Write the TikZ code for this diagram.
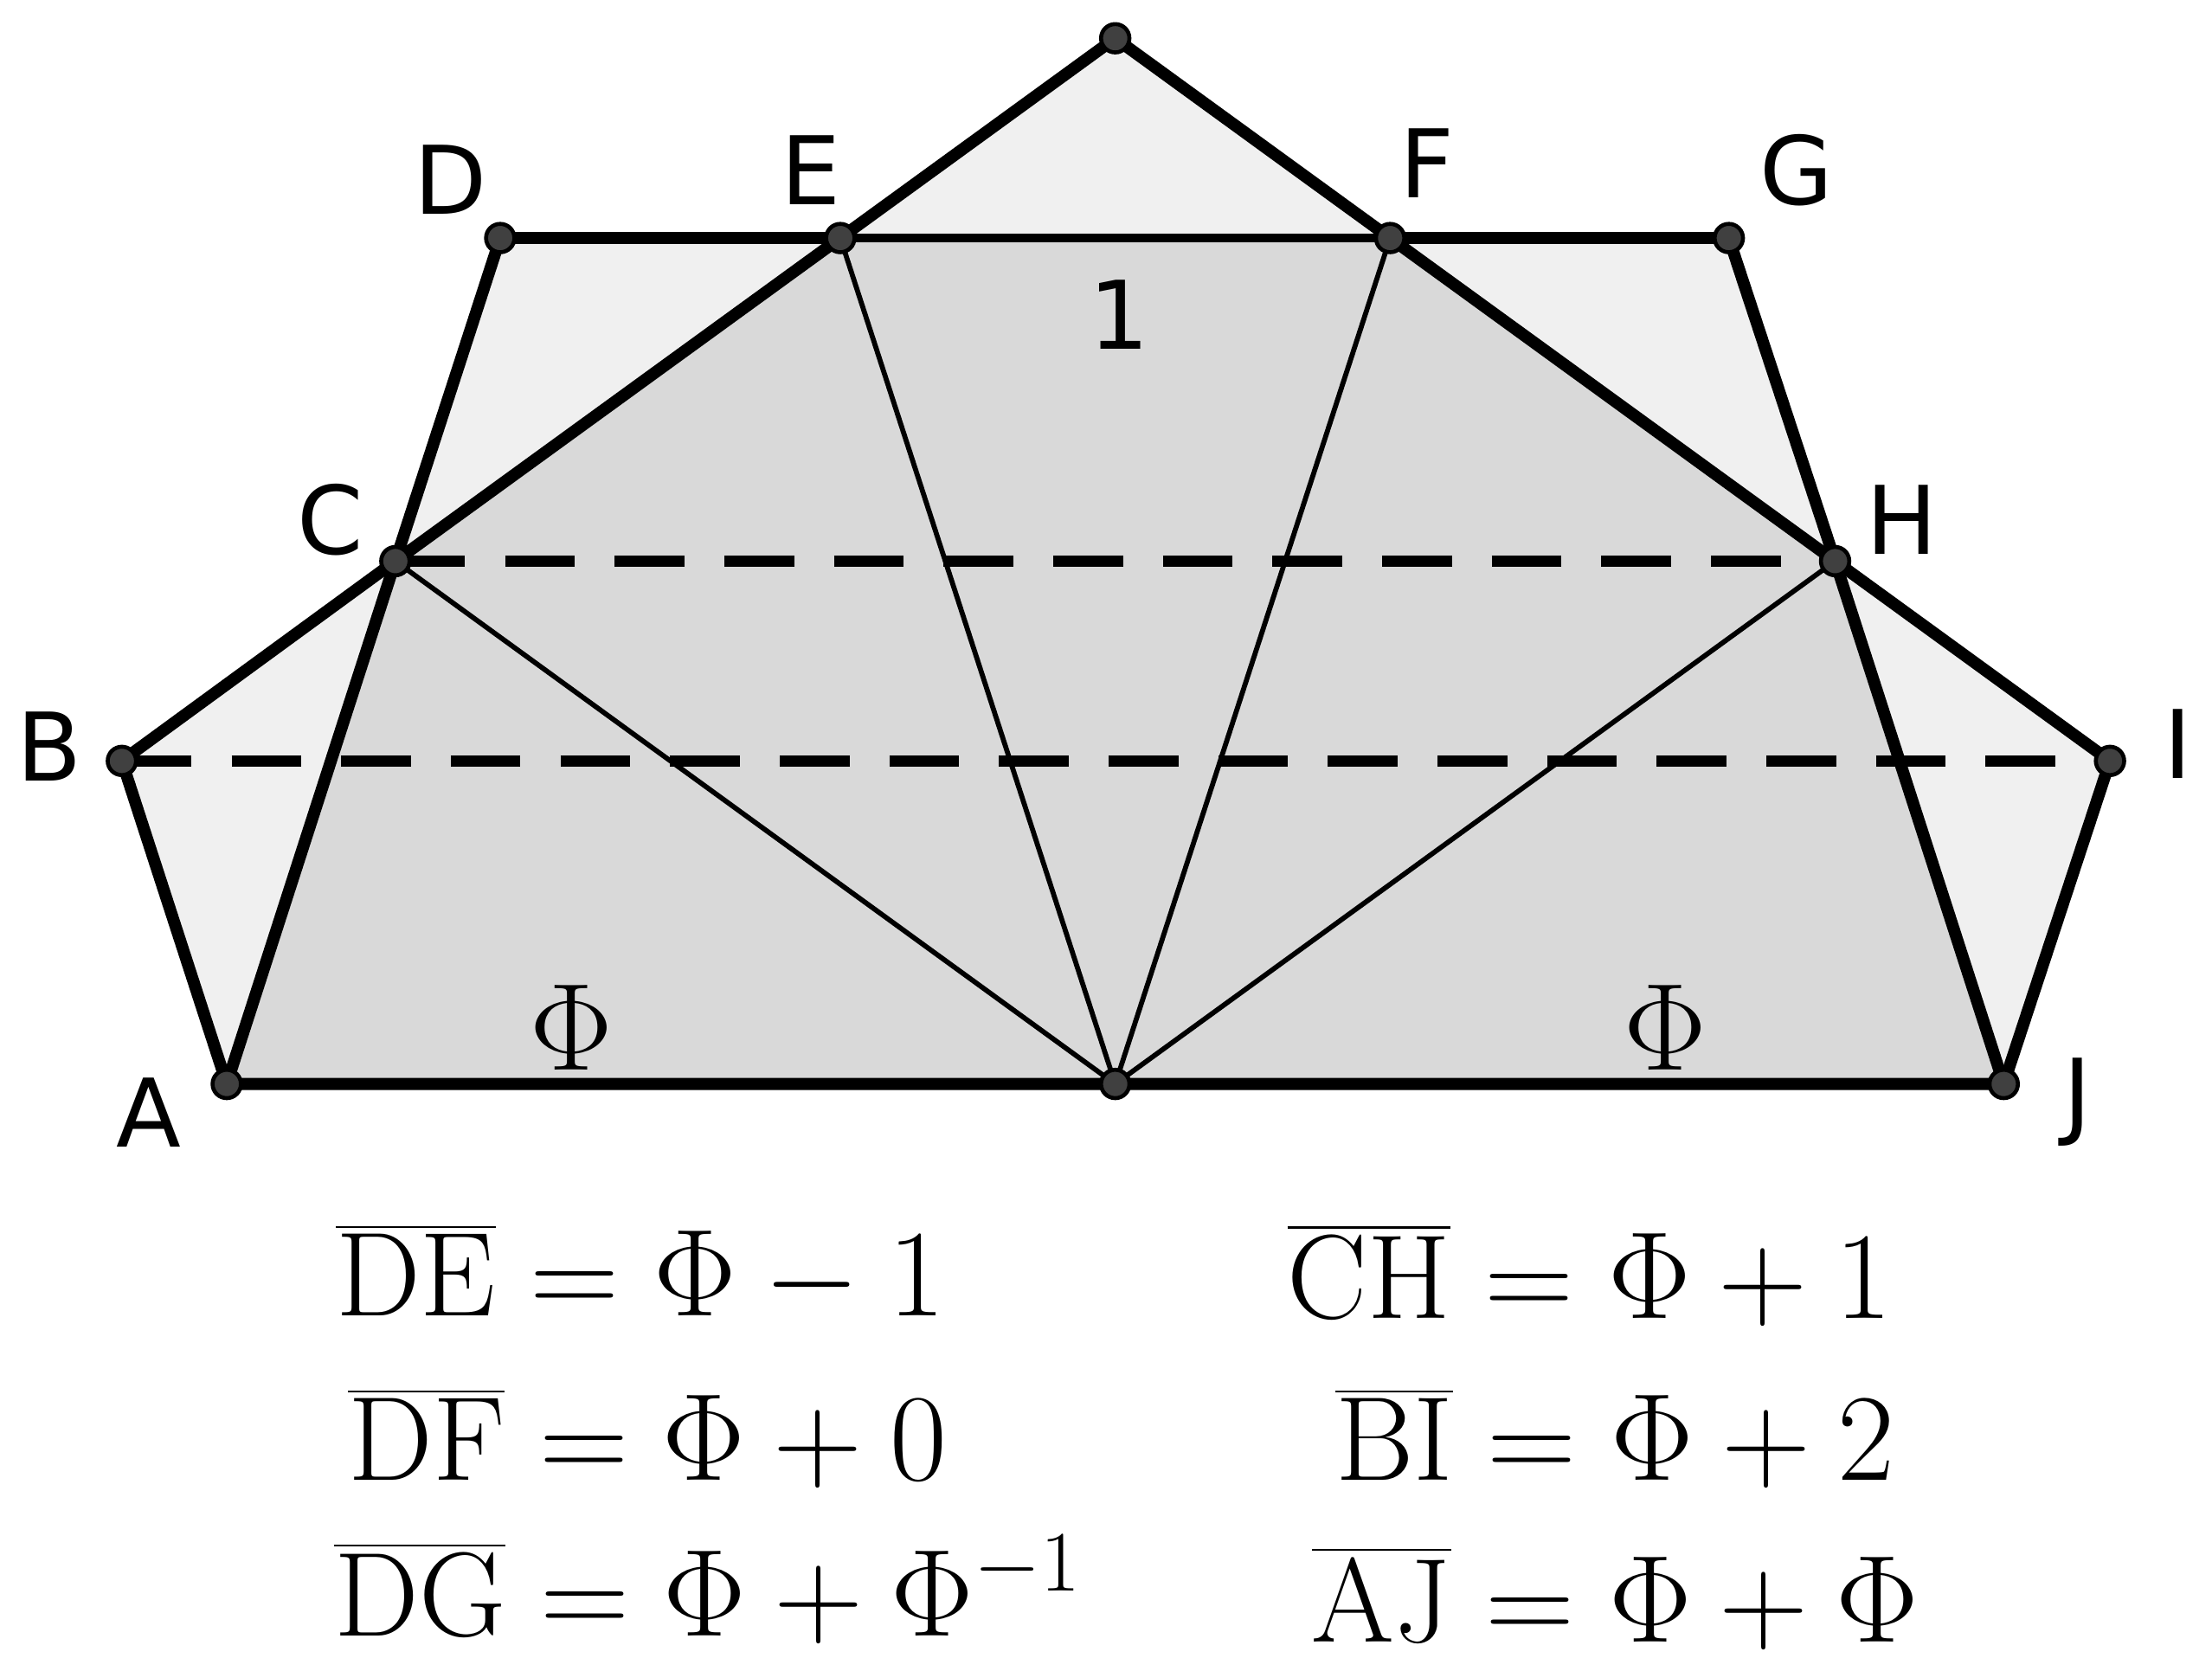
\documentclass[tikz,border=0pt]{standalone}
\usepackage{fontspec}
\newfontfamily\lab{DejaVu Sans}
\begin{document}
\begin{tikzpicture}[x=0.01cm,y=-0.01cm,
 thk/.style={line width=2.4pt,line join=round},
 thn/.style={line width=1pt},
 pt/.style={circle,fill=black!75,draw=black,line width=0.8pt,inner sep=0pt,minimum size=0.2cm},
 lb/.style={font=\lab\fontsize{19}{21}\selectfont},
 eq/.style={font=\fontsize{24}{27}\selectfont}]
\useasboundingbox (0,0) rectangle (1561,1179);
\coordinate (A) at (160,765); \coordinate (J) at (1414,765); \coordinate (M) at (787,765);
\coordinate (T) at (787,27); \coordinate (D) at (353,168); \coordinate (E) at (593,168);
\coordinate (F) at (981,168); \coordinate (G) at (1220,168); \coordinate (C) at (279,396);
\coordinate (H) at (1295,396); \coordinate (B) at (86,537); \coordinate (I) at (1489,537);
\fill[black!6] (A)--(B)--(C)--(D)--(E)--(T)--(F)--(G)--(H)--(I)--(J)--cycle;
\fill[black!15] (A)--(C)--(E)--(F)--(H)--(J)--cycle;
\draw[thn] (C)--(M) (E)--(M) (F)--(M) (H)--(M);
\draw[line width=1.6pt] (E)--(F);
\draw[line width=2.2pt,dashed,dash pattern=on 14pt off 8pt] (C)--(H) (B)--(I);
\draw[thk] (A)--(B)--(C)--(D)--(E)--(T)--(F)--(G)--(H)--(I)--(J)--cycle;
\draw[thk] (A)--(C)--(E) (F)--(H)--(J);
\foreach \p in {A,B,C,D,E,T,F,G,H,I,J,M} \node[pt] (n\p) at (\p) {};
\node[lb] (lA) at (105,785) {A};
\node[lb] (lB) at (35,527) {B};
\node[lb] (lC) at (233,367) {C};
\node[lb] (lD) at (318,127) {D};
\node[lb] (lE) at (572,120) {E};
\node[lb] (lF) at (1007,115) {F};
\node[lb] (lG) at (1268,120) {G};
\node[lb] (lH) at (1342,367) {H};
\node[lb] (lI) at (1537,525) {I};
\node[lb] (lJ) at (1466,778) {J};
\node[lb] (l1) at (790,222) {1};
\node[eq] (p1) at (403,725) {$\Phi$};
\node[eq] (p2) at (1175,725) {$\Phi$};
\node[eq] (e1) at (452,900) {$\overline{\mathrm{DE}}=\Phi-1$};
\node[eq] (e2) at (457,1015) {$\overline{\mathrm{DF}}=\Phi+0$};
\node[eq] (e3) at (500,1122) {$\overline{\mathrm{DG}}=\Phi+\Phi^{-1}$};
\node[eq] (e4) at (1122,900) {$\overline{\mathrm{CH}}=\Phi+1$};
\node[eq] (e5) at (1140,1015) {$\overline{\mathrm{BI}}=\Phi+2$};
\node[eq] (e6) at (1140,1128) {$\overline{\mathrm{AJ}}=\Phi+\Phi$};
\end{tikzpicture}
\end{document}
